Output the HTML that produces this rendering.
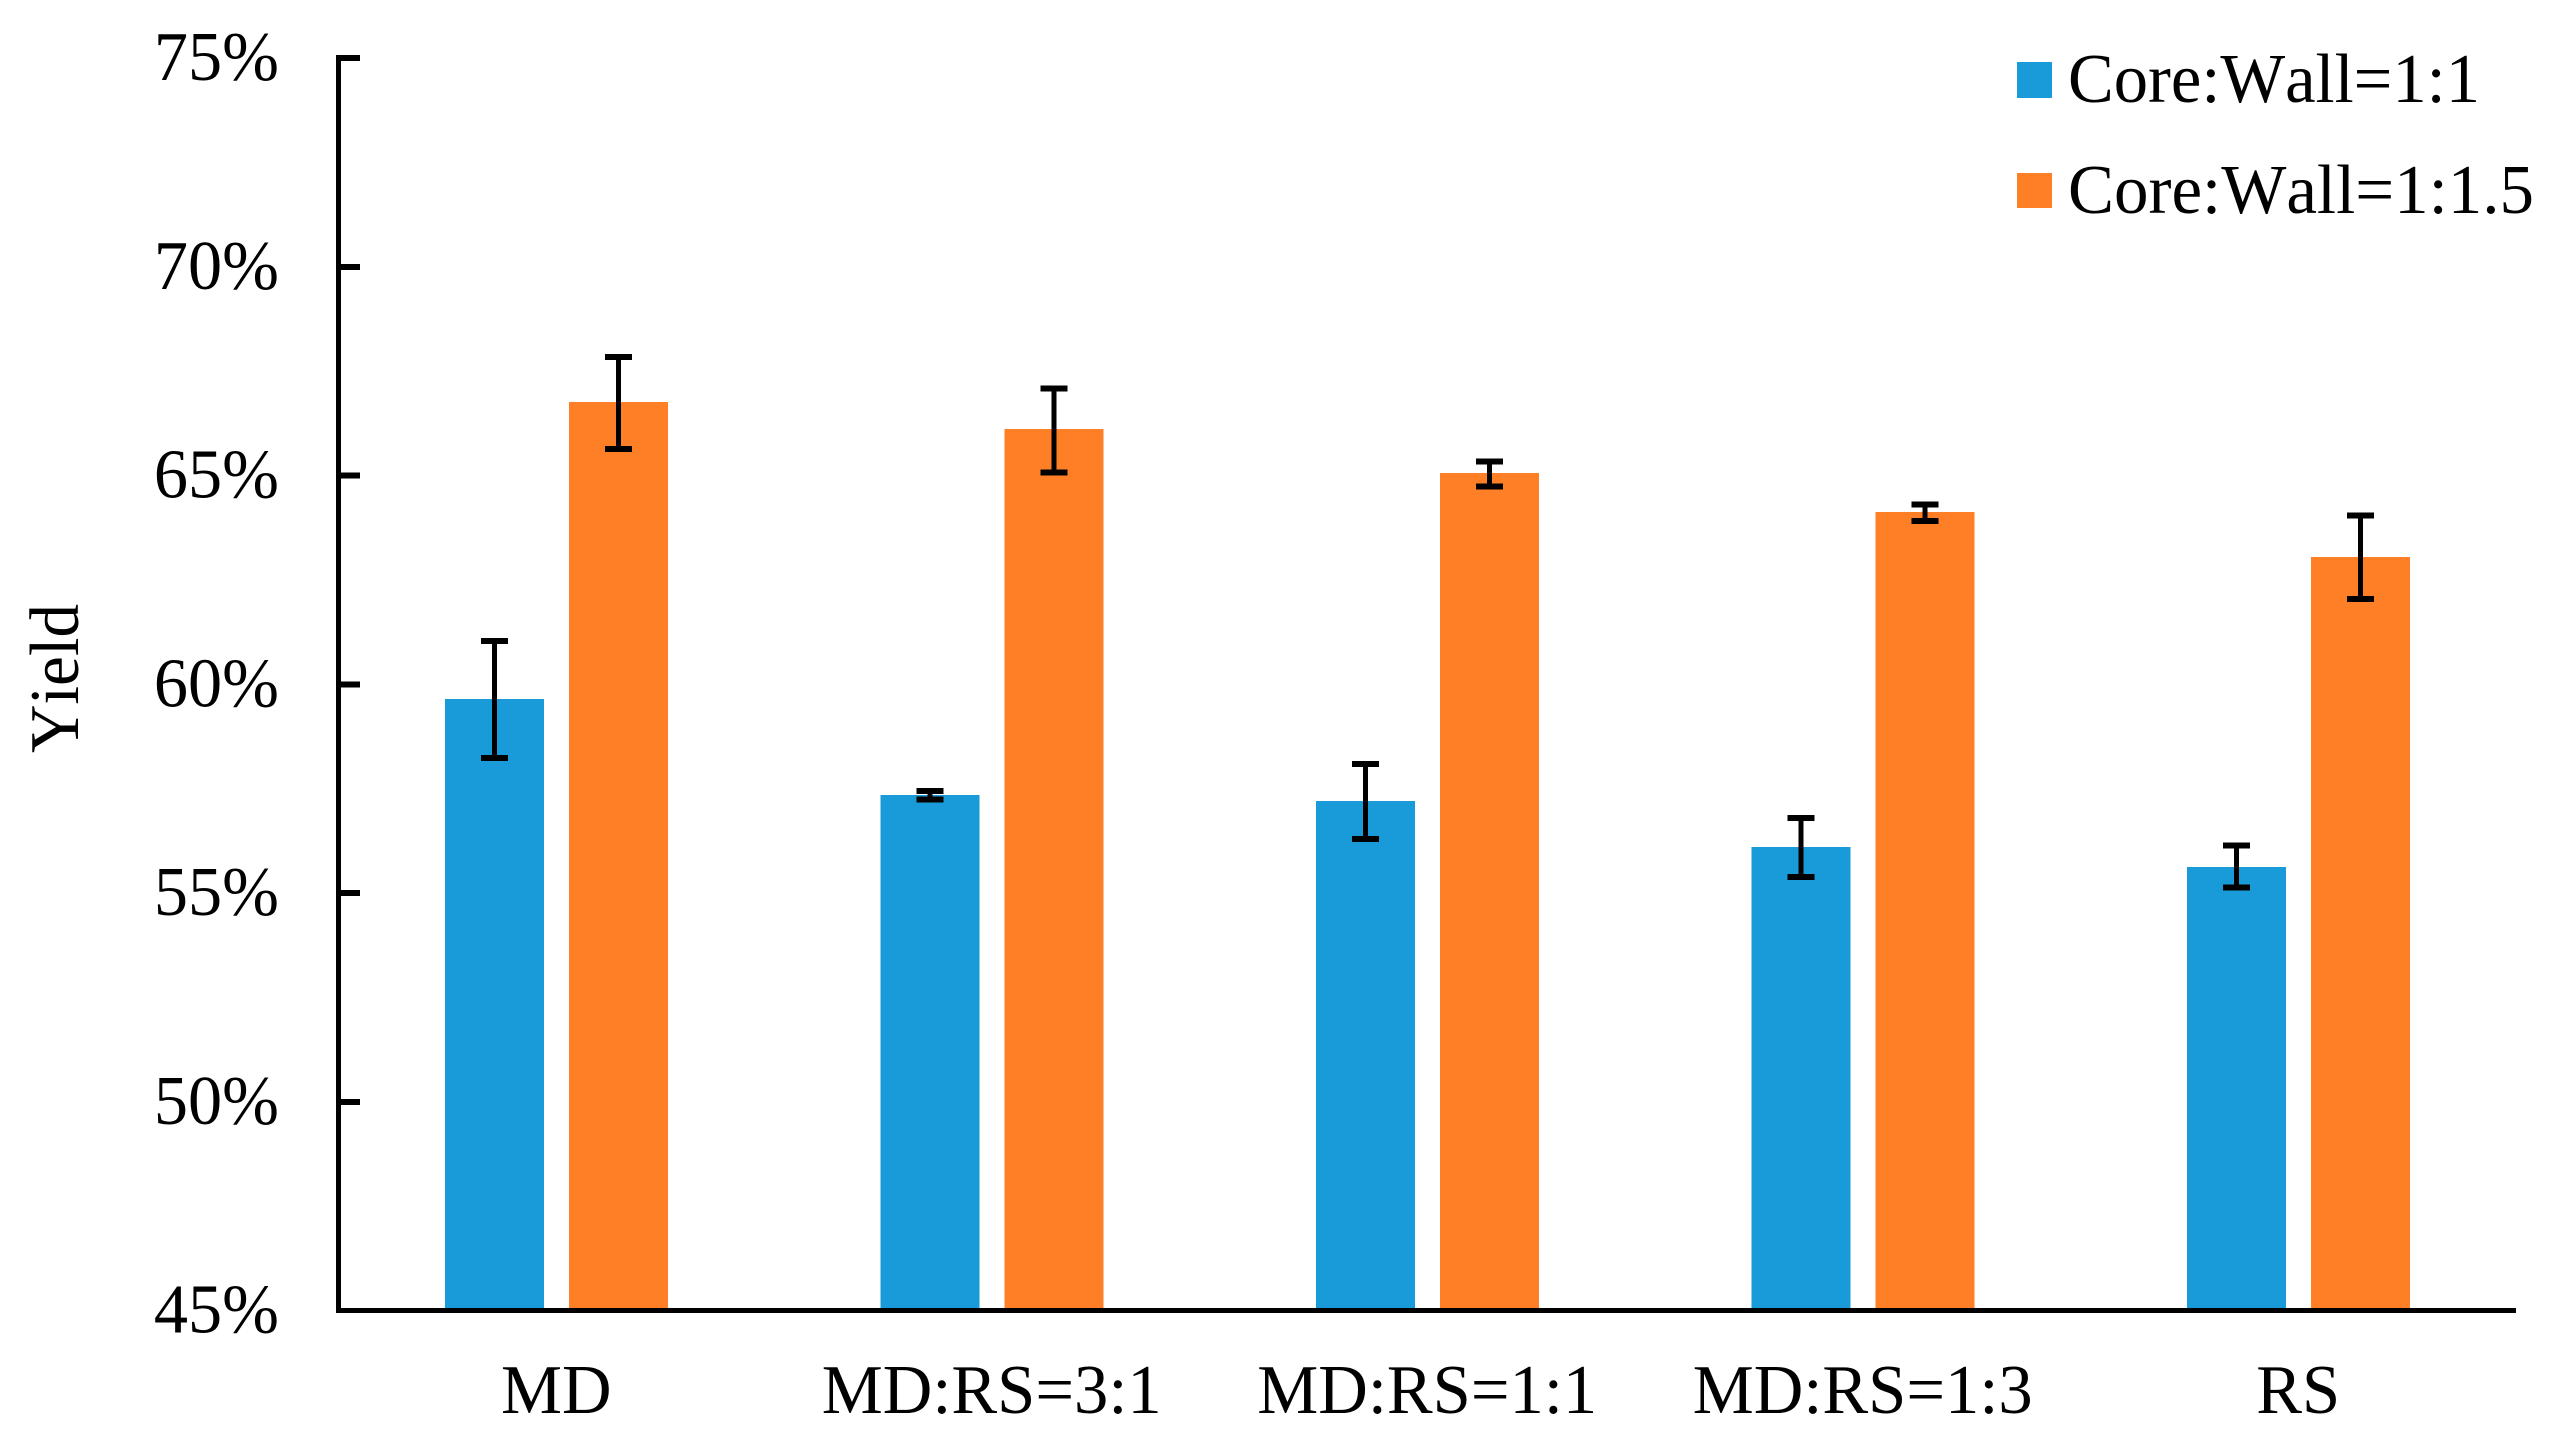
<!DOCTYPE html>
<html lang="en">
<head>
<meta charset="utf-8">
<title>Yield by feedstock and core to wall ratio</title>
<style>
html,body{margin:0;padding:0;background:#fff;width:2561px;height:1450px;overflow:hidden}
svg{display:block}
text{font-family:"Liberation Serif",serif;font-size:70px;fill:#000;font-kerning:none}
rect{shape-rendering:crispEdges}
</style>
</head>
<body>
<svg id="chart" xmlns="http://www.w3.org/2000/svg" width="2561" height="1450" viewBox="0 0 2561 1450">
<rect x="0" y="0" width="2561" height="1450" fill="#fff"/>
<g id="bars"></g>
<g id="errors"></g>
<g id="axes"></g>
<text transform="translate(78,678.5) rotate(-90)" text-anchor="middle" textLength="149" lengthAdjust="spacingAndGlyphs">Yield</text>
<g>
<g>
<rect x="2017" y="62" width="35" height="36" fill="#1A9BD9"/>
<text x="2068" y="102" textLength="412" lengthAdjust="spacingAndGlyphs">Core:Wall=1:1</text>
</g>
<g>
<rect x="2017" y="173" width="35" height="35" fill="#FF7F27"/>
<text x="2068" y="213" textLength="466" lengthAdjust="spacingAndGlyphs">Core:Wall=1:1.5</text>
</g>
</g>
</svg>
<script>
const categories = ["MD", "MD:RS=3:1", "MD:RS=1:1", "MD:RS=1:3", "RS"];
const tickValues = [45, 50, 55, 60, 65, 70, 75];
const seriesA = [59.65, 57.35, 57.20, 56.10, 55.62];
const seriesAHigh = [61.04, 57.44, 58.09, 56.80, 56.14];
const seriesALow = [58.23, 57.24, 56.29, 55.38, 55.13];
const seriesB = [66.76, 66.11, 65.06, 64.13, 63.05];
const seriesBHigh = [67.84, 67.08, 65.34, 64.31, 64.04];
const seriesBLow = [65.63, 65.07, 64.74, 63.91, 62.04];

const NS = 'http://www.w3.org/2000/svg';
const plotLeft = 338.5, plotRight = 2516, yBase = 1310.5, yTop = 58;
const yMin = 45, yMax = 75;
const BAR_W = 99, BAR_GAP = 25, CAP_W = 27, CAP_H = 6, STEM_W = 5;

function yScale(v) { return yBase - (v - yMin) * (yBase - yTop) / (yMax - yMin); }
function xCenter(i) { return plotLeft + (plotRight - plotLeft) * (i + 0.5) / categories.length; }

function makeRect(parent, x, y, w, h, fill) {
  const r = document.createElementNS(NS, 'rect');
  r.setAttribute('x', x);
  r.setAttribute('y', y);
  r.setAttribute('width', w);
  r.setAttribute('height', h);
  r.setAttribute('fill', fill);
  parent.appendChild(r);
  return r;
}
function makeText(parent, x, y, anchor, str, squeeze) {
  const t = document.createElementNS(NS, 'text');
  t.setAttribute('x', x);
  t.setAttribute('y', y);
  t.setAttribute('text-anchor', anchor);
  t.textContent = str;
  parent.appendChild(t);
  t.setAttribute('textLength', (t.getComputedTextLength() * squeeze).toFixed(1));
  t.setAttribute('lengthAdjust', 'spacingAndGlyphs');
  return t;
}

const barsG = document.getElementById('bars');
const errG = document.getElementById('errors');
const axesG = document.getElementById('axes');

function drawSeries(values, highs, lows, offset, color, key) {
  values.forEach(function (v, i) {
    const cx = xCenter(i) + offset;
    const top = yScale(v);
    const bar = makeRect(barsG, cx - BAR_W / 2, top, BAR_W, yBase - top, color);
    
    
    const yh = yScale(highs[i]);
    const yl = yScale(lows[i]);
    const stem = makeRect(errG, cx - STEM_W / 2, yh, STEM_W, yl - yh, '#000');
    
    
    const capHigh = makeRect(errG, cx - CAP_W / 2, yh - CAP_H / 2, CAP_W, CAP_H, '#000');
    
    
    const capLow = makeRect(errG, cx - CAP_W / 2, yl - CAP_H / 2, CAP_W, CAP_H, '#000');
    
    
  });
}
drawSeries(seriesA, seriesAHigh, seriesALow, -(BAR_W + BAR_GAP) / 2, '#1A9BD9', 'core-wall-1-1');
drawSeries(seriesB, seriesBHigh, seriesBLow, (BAR_W + BAR_GAP) / 2, '#FF7F27', 'core-wall-1-1-5');

const yAxisLine = makeRect(axesG, 336, yTop - 3, 5, yBase - yTop + 5.5, '#000');


const xAxisLine = makeRect(axesG, 338, yBase - 2.5, plotRight - 338, 5, '#000');



tickValues.forEach(function (v) {
  const y = yScale(v);
  if (v !== yMin) {
    const tick = makeRect(axesG, 336, y - 3, 24, 6, '#000');
    
    
  }
  const label = makeText(axesG, 279, y + 22, 'end', v + '%', 0.975);
  
  
});

categories.forEach(function (c, i) {
  const label = makeText(axesG, xCenter(i), 1413, 'middle', c, 0.98);
  
  
});
</script>
</body>
</html>
